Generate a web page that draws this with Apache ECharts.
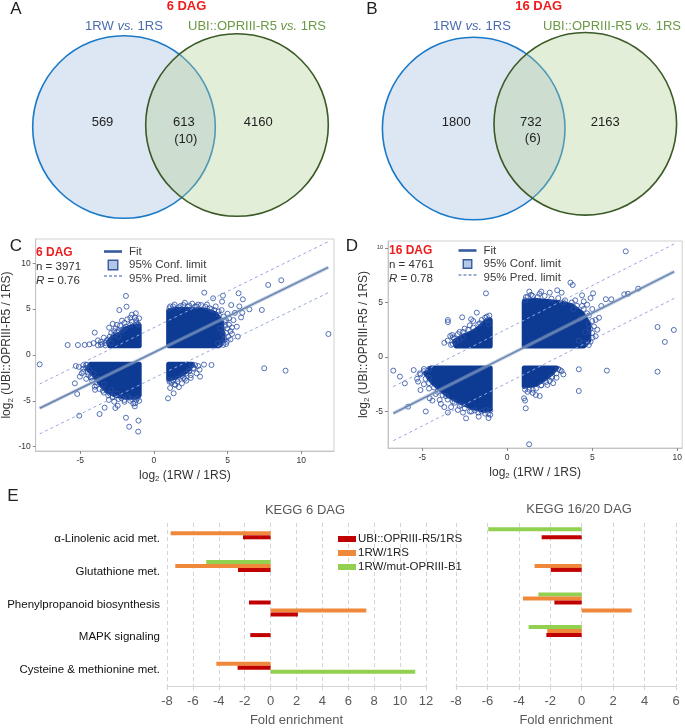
<!DOCTYPE html>
<html><head><meta charset="utf-8">
<script src="https://cdn.jsdelivr.net/npm/echarts@6/dist/echarts.min.js"></script>
<style>html,body{margin:0;padding:0;background:#fff}#c{width:685px;height:728px}</style>
</head><body><div id="c"></div>
<script>
// ---------------- DATA ----------------
const vennTitles = ['6 DAG', '16 DAG'];
const vennSetLabels = ['1RW {i|vs.} 1RS', 'UBI::OPRIII-R5 {i|vs.} 1RS'];
const vennCountsA = [569, 613, 4160];
const vennSharedA = [10];
const vennCountsB = [1800, 732, 2163];
const vennSharedB = [6];

const statsC = ['6 DAG', 3971, 0.76];
const statsD = ['16 DAG', 4761, 0.78];

const ticksCx = [-5, 0, 5, 10];
const ticksCy = [-10, -5, 0, 5, 10];
const ticksDx = [-5, 0, 5, 10];
const ticksDy = [-5, 0, 5, 10];

const fitC = [[-7.76, -5.81], [11.84, 9.56]];
const predUpC = [[-7.76, -3.16], [11.84, 12.36]];
const predLoC = [[-7.76, -8.6], [11.84, 6.8]];
const fitD = [[-6.7, -5.17], [9.82, 7.83]];
const predUpD = [[-6.7, -2.72], [9.82, 10.37]];
const predLoD = [[-6.7, -7.68], [9.82, 5.38]];

// saturated (fully overlapping) point clouds, outlines
const densityC = [
  [[1,1],[4.4,1],[4.7,1.4],[4.6,3.5],[4.2,4.5],[3.5,4.9],[1.5,5.0],[1,4.8]],
  [[-1,1],[-3.0,1],[-3.1,1.4],[-2.8,1.9],[-2.3,2.3],[-2.0,2.8],[-1.5,3.1],[-1,3.2]],
  [[-1,-1],[-4.3,-1],[-4.5,-1.5],[-4.0,-2.3],[-3.6,-3.2],[-3.2,-3.9],[-2.6,-4.4],[-1.8,-4.6],[-1.2,-4.6],[-1,-4.4]],
  [[1,-1],[2.6,-1],[2.4,-1.5],[2.0,-2.0],[1.5,-2.4],[1,-2.6]]
];
const densityD = [
  [[1,1],[4.5,1],[4.8,1.5],[4.8,3.0],[4.4,4.0],[3.8,4.7],[3.0,5.0],[1.6,5.2],[1,5.1]],
  [[-1,1],[-3.0,1],[-3.1,1.4],[-2.6,1.9],[-2.1,2.2],[-1.7,2.6],[-1.3,3.2],[-1,3.4]],
  [[-1,-1],[-4.5,-1],[-4.8,-1.5],[-4.4,-2.3],[-3.9,-3.0],[-3.4,-3.6],[-2.8,-4.1],[-2.1,-4.6],[-1.4,-4.9],[-1,-4.8]],
  [[1,-1],[2.9,-1],[2.6,-1.5],[2.2,-2.0],[1.7,-2.5],[1,-2.7]]
];

const scatterC = [
  [-1.9,6.44],[-1.86,5.27],[-2.35,4.9],[-1.23,4.55],[-2.17,3.75],[-1.0,4.0],[-1.6,4.07],[-3.04,2.98],[-4.02,2.44],[-3.6,1.42],
  [-4.38,1.16],[-4.7,1.1],[-5.86,1.09],[-5.16,1.09],[-3.8,1.6],[-3.4,1.9],[-2.9,2.4],[-2.6,2.9],[-2.3,3.2],[-1.5,3.6],
  [-1.1,3.4],[-1.3,4.1],[-2.0,3.5],[-3.3,1.3],[-3.1,1.7],[-2.7,2.6],[-2.5,3.3],[-1.8,3.9],[-1.2,3.8],[-3.6,1.1],
  [-4.1,1.3],[-2.8,3.4],[-2.0,2.9],[-2.4,2.7],[-1.5,4.4],
  [-3.3,1.05],[-3.5,1.2],[-3.2,1.6],[-3.0,2.0],[-2.7,2.2],[-2.5,2.5],[-2.2,2.7],[-1.9,3.1],[-1.6,3.3],[-1.2,3.5],
  [-1.05,3.3],[-2.9,1.3],[-3.8,1.05],[-2.4,2.0],
  [-7.76,-1.02],[-5.3,-1.2],[-5.1,-1.3],[-4.8,-1.82],[-5.03,-2.36],[-5.37,-3.09],[-5.21,-4.25],[-5.07,-6.62],[-3.69,-6.44],[-3.35,-5.75],
  [-2.62,-5.78],[-2.46,-5.53],[-1.9,-6.84],[-1.68,-7.82],[-1.05,-7.16],[-1.07,-8.36],[-3.06,-4.9],[-2.79,-4.55],[-2.2,-4.7],[-1.8,-4.6],
  [-1.27,-5.27],[-4.25,-2.47],[-4.45,-2.2],[-4.02,-3.45],[-3.47,-3.89],[-3.0,-4.2],[-4.58,-1.05],[-4.8,-1.1],[-4.4,-1.6],[-4.1,-2.0],
  [-3.8,-2.6],[-3.4,-3.2],[-2.5,-4.2],[-1.5,-4.8],[-1.1,-4.7],[-2.0,-5.1],[-4.6,-1.4],[-3.9,-3.0],[-1.3,-5.6],[-2.9,-3.8],
  [-4.6,-1.1],[-4.8,-1.5],[-4.5,-1.9],[-4.3,-2.4],[-4.2,-2.8],[-3.9,-3.3],[-3.7,-3.7],[-3.4,-4.1],[-3.1,-4.4],[-2.8,-4.6],
  [-2.4,-4.8],[-2.0,-4.9],[-1.6,-5.0],[-1.2,-4.9],[-1.0,-5.0],[-4.9,-2.0],[-4.6,-2.6],[-4.0,-3.8],[-2.7,-5.1],[-1.4,-5.3],
  [0.96,-4.73],[1.34,-4.18],[1.45,-3.27],[1.9,-3.09],[2.2,-2.8],[3.13,-2.36],[2.9,-2.0],[3.91,-1.09],[3.0,-1.2],[2.7,-1.5],
  [2.5,-2.2],[1.1,-3.6],[1.6,-2.9],[2.0,-2.5],[1.2,-3.0],[3.4,-1.05],[2.6,-1.1],[1.05,-2.9],[7.49,-1.45],[8.94,-1.71],
  [1.7,-3.5],[2.4,-1.8],
  [2.8,-1.1],[2.7,-1.4],[2.4,-1.7],[2.2,-2.0],[1.9,-2.3],[1.6,-2.6],[1.3,-2.8],[1.05,-2.7],[3.1,-1.6],[2.1,-2.6],
  [1.4,-3.2],[2.5,-2.5],
  [11.85,2.29],[7.76,7.64],[8.65,8.15],[7.33,4.91],[6.48,4.98],[6.04,6.07],[5.75,6.73],[5.25,5.45],[4.63,5.82],[4.02,6.18],
  [4.69,6.47],[3.42,6.8],[5.92,4.1],[5.63,3.09],[5.2,2.6],[5.7,2.0],[5.3,2.29],[4.58,1.38],[4.36,1.3],[4.8,1.6],
  [5.0,4.5],[5.5,4.6],[4.8,3.6],[5.1,3.3],[4.6,4.9],[4.2,5.3],[3.6,5.5],[3.0,5.5],[2.4,5.4],[1.8,5.35],
  [1.3,5.3],[1.05,5.1],[2.1,5.7],[4.4,4.4],[4.7,2.3],[4.5,2.9],[5.4,3.8],[3.9,5.0],[4.9,1.2],[6.0,4.6],
  [5.8,5.3],[2.8,5.3],
  [1.1,5.3],[1.4,5.5],[1.7,5.2],[2.0,5.45],[2.3,5.25],[2.6,5.6],[2.9,5.3],[3.2,5.45],[3.5,5.25],[3.8,5.1],
  [4.1,4.9],[4.4,4.75],[4.75,4.2],[4.9,3.8],[4.85,3.2],[5.0,2.9],[4.9,2.4],[5.05,2.0],[4.8,1.8],[4.95,1.45],
  [4.7,1.1],[5.2,1.7],[5.3,3.0],[5.1,4.0]
];

const scatterD = [
  [1.2,5.5],[1.05,5.2],[1.5,5.6],[1.9,5.8],[2.5,5.9],[3.2,5.9],[2.94,6.12],[3.72,6.82],[3.85,6.6],[4.0,5.2],
  [4.5,5.1],[4.4,5.66],[4.9,5.4],[5.05,5.84],[5.53,4.68],[5.8,5.3],[6.12,5.29],[6.88,5.75],[7.1,5.8],[7.7,6.27],
  [6.97,9.69],[4.4,4.68],[4.7,4.0],[4.79,3.0],[5.02,1.77],[4.5,1.31],[4.2,1.5],[4.6,2.3],[4.9,2.6],[5.2,3.4],
  [4.3,3.5],[8.84,2.75],[9.27,1.38],[9.8,2.48],[5.0,4.4],[4.8,1.1],[3.9,4.4],[3.3,5.0],
  [1.1,5.5],[1.4,5.7],[1.8,5.5],[2.2,5.6],[2.6,5.35],[3.0,5.4],[3.4,5.2],[3.8,5.0],[4.1,4.7],[4.5,4.4],
  [4.8,3.8],[5.0,3.3],[5.1,2.8],[5.0,2.2],[5.2,1.9],[4.9,1.4],[5.3,2.5],[5.4,3.6],[4.7,4.8],[2.0,6.0],
  [1.3,6.0],
  [-3.49,3.39],[-3.49,3.2],[-3.23,2.02],[-3.1,1.7],[-2.65,3.64],[-2.12,3.46],[-1.79,4.07],[-1.15,3.39],[-1.25,5.84],[-3.35,1.93],
  [-3.0,1.4],[-2.8,2.3],[-2.5,2.6],[-2.2,2.9],[-1.6,3.1],[-1.3,3.6],[-2.0,3.3],[-3.2,1.2],[-2.6,1.8],[-1.1,3.0],
  [-3.3,1.1],[-3.5,1.5],[-3.2,1.8],[-2.9,2.1],[-2.6,2.3],[-2.3,2.5],[-2.0,2.7],[-1.7,3.0],[-1.5,3.4],[-1.2,3.7],
  [-1.05,3.8],[-3.7,1.3],[-2.8,1.6],
  [-6.7,-1.25],[-6.31,-1.8],[-6.02,-2.42],[-5.83,-4.56],[-5.14,-1.5],[-5.24,-2.26],[-5.1,-3.03],[-4.79,-5.0],[-4.56,-3.79],[-4.4,-4.0],
  [-3.97,-3.94],[-3.9,-4.3],[-3.49,-5.1],[-2.9,-4.86],[-2.42,-5.63],[-1.68,-5.47],[-1.25,-4.86],[-1.0,-4.9],[-1.1,-5.2],[-4.9,-1.3],
  [-4.6,-1.9],[-4.9,-2.5],[-4.6,-2.9],[-4.2,-3.4],[-3.6,-3.6],[-3.2,-4.1],[-2.7,-4.4],[-2.2,-5.0],[-1.9,-4.9],[-1.5,-5.0],
  [-5.5,-1.2],[-4.6,-1.1],[-3.7,-4.6],[-2.6,-5.1],
  [-4.9,-1.1],[-5.1,-1.6],[-4.8,-2.0],[-4.6,-2.4],[-4.3,-2.8],[-4.1,-3.2],[-3.8,-3.5],[-3.5,-3.9],[-3.1,-4.2],[-2.8,-4.5],
  [-2.5,-4.7],[-2.1,-5.0],[-1.7,-5.1],[-1.3,-5.2],[-1.0,-5.3],[-5.3,-2.0],[-3.3,-4.6],[-1.1,-5.6],
  [0.99,-3.79],[1.09,-4.71],[1.29,-8.01],[1.68,-3.49],[1.91,-3.58],[2.36,-2.57],[2.65,-1.8],[2.9,-1.9],[4.21,-1.13],[4.21,-3.12],
  [5.86,-1.25],[8.84,-1.35],[3.0,-1.1],[2.5,-2.2],[2.0,-2.6],[1.5,-3.0],[1.2,-3.2],[3.2,-1.3],[1.05,-4.0],
  [3.1,-1.2],[2.9,-1.5],[2.6,-1.9],[2.3,-2.3],[2.0,-2.6],[1.7,-2.9],[1.3,-3.0],[1.05,-3.0],[3.3,-1.6],[2.7,-2.4],
  [1.5,-3.3]
];

const keggCategories = ['\u03b1-Linolenic acid met.', 'Glutathione met.', 'Phenylpropanoid biosynthesis', 'MAPK signaling', 'Cysteine & methionine met.'];
const seriesNames = ['UBI::OPRIII-R5/1RS', '1RW/1RS', '1RW/mut-OPRIII-B1'];
// 6 DAG (down = negative-enrichment row, up = positive row)
const green6Down  = [null, -4.97, null, null, null];
const orange6Down = [-7.72, -7.36, null, null, -4.19];
const red6Down    = [-2.13, -2.52, -1.67, -1.57, -2.55];
const green6Up    = [null, null, null, null, 11.17];
const orange6Up   = [null, null, 7.39, null, null];
const red6Up      = [null, null, 2.11, null, null];
// 16/20 DAG
const green16Down  = [-5.95, null, -2.76, -3.38, null];
const orange16Down = [null, -3.0, -3.74, -2.19, null];
const red16Down    = [-2.55, -1.97, -1.74, -2.25, null];
const green16Up    = [null, null, null, null, null];
const orange16Up   = [null, null, 3.18, null, null];
const red16Up      = [null, null, null, null, null];

// ---------------- STYLE / LAYOUT ----------------
const FONT = '"Liberation Sans", Arial, Helvetica, sans-serif';
const RED = '#c00000', ORANGE = '#f0883c', GREEN = '#92d050';
const PT = '#2b4fa5', CORE = '#0d3b94';

function T(x, y, text, o) {
  o = o || {};
  const st = {
    text: text, fill: o.fill || '#222', fontSize: o.size || 13, fontFamily: FONT,
    fontWeight: o.weight || 'normal', fontStyle: o.style || 'normal',
    align: o.align || 'center', textAlign: o.align || 'center',
    verticalAlign: 'middle', textVerticalAlign: 'middle'
  };
  if (o.rich) st.rich = o.rich;
  return { type: 'text', x: x, y: y, z: 10, style: st, silent: true };
}
function richItal(color, size) {
  return { i: { fontStyle: 'italic', fill: color, fontSize: size, fontFamily: FONT } };
}

function venn(L, counts, shared, title) {
  const els = [];
  els.push({ type: 'circle', shape: { cx: L.c1[0], cy: L.c1[1], r: L.r }, style: { fill: '#dde6f3', stroke: '#1a7ac7', lineWidth: 1.6 }, silent: true });
  els.push({ type: 'circle', shape: { cx: L.c2[0], cy: L.c2[1], r: L.r }, style: { fill: 'rgba(178,209,146,0.36)', stroke: '#3b5a27', lineWidth: 1.6 }, silent: true });
  els.push(T(L.title[0], L.title[1], title, { fill: '#ee1c1c', weight: 'bold', size: 13 }));
  els.push(T(L.lab1[0], L.lab1[1], vennSetLabels[0], { fill: '#4a6cb0', size: 13, rich: richItal('#4a6cb0', 13) }));
  els.push(T(L.lab2[0], L.lab2[1], vennSetLabels[1], { fill: '#6a9a45', size: 13, rich: richItal('#6a9a45', 13) }));
  els.push(T(L.n1[0], L.n1[1], String(counts[0])));
  els.push(T(L.n2[0], L.n2[1], String(counts[1])));
  els.push(T(L.n2[0] + 2, L.n2[1] + 16.5, '(' + shared[0] + ')'));
  els.push(T(L.n3[0], L.n3[1], String(counts[2])));
  return els;
}
const layoutA = { c1: [124, 127], c2: [237, 125], r: 91.3, title: [186.5, 6], lab1: [124, 26], lab2: [257, 26], n1: [102.5, 122.5], n2: [183.8, 122.5], n3: [258.3, 122.5] };
const layoutB = { c1: [473.7, 128.5], c2: [585.3, 123.8], r: 91.3, title: [538.7, 6], lab1: [472, 26.5], lab2: [612, 26.5], n1: [456.3, 122], n2: [530.8, 122], n3: [605.3, 122] };

function scatterLegend(x0, y0, sq) {
  const c = '#3a5a9e';
  return [
    { type: 'line', shape: { x1: x0, y1: y0, x2: x0 + 18, y2: y0 }, style: { stroke: c, lineWidth: 2.6 }, silent: true, z: 10 },
    { type: 'rect', shape: { x: x0 + 9 - sq / 2, y: y0 + 13.5 - sq / 2, width: sq, height: sq }, style: { fill: '#b5c7e6', stroke: c, lineWidth: 1.4 }, silent: true, z: 10 },
    { type: 'line', shape: { x1: x0, y1: y0 + 24.5, x2: x0 + 18, y2: y0 + 24.5 }, style: { stroke: c, lineWidth: 1, lineDash: [3, 2] }, silent: true, z: 10 },
    T(x0 + 25, y0, 'Fit', { align: 'left', size: 11.5, fill: '#3c3c3c' }),
    T(x0 + 25, y0 + 13.5, '95% Conf. limit', { align: 'left', size: 11.5, fill: '#3c3c3c' }),
    T(x0 + 25, y0 + 27, '95% Pred. limit', { align: 'left', size: 11.5, fill: '#3c3c3c' })
  ];
}
function statsText(x0, y0, s) {
  return [
    T(x0, y0, s[0], { align: 'left', size: 12, weight: 'bold', fill: '#ee1c1c' }),
    T(x0, y0 + 14, 'n = ' + s[1], { align: 'left', size: 11.5, fill: '#333' }),
    T(x0, y0 + 28, '{i|R} = ' + s[2], { align: 'left', size: 11.5, fill: '#333', rich: richItal('#333', 11.5) })
  ];
}

const graphic = [].concat(
  venn(layoutA, vennCountsA, vennSharedA, vennTitles[0]),
  venn(layoutB, vennCountsB, vennSharedB, vennTitles[1]),
  [T(16, 9, 'A', { size: 17 }), T(372, 9, 'B', { size: 17 }), T(16, 246, 'C', { size: 17 }), T(352, 246, 'D', { size: 17 }), T(13, 496, 'E', { size: 17 })],
  statsText(36, 252.5, statsC), statsText(389, 250.5, statsD),
  scatterLegend(104, 251.5, 9.5), scatterLegend(458.5, 250.5, 8.5),
  [T(305, 510, 'KEGG 6 DAG', { size: 13, fill: '#595959' }), T(579, 509.5, 'KEGG 16/20 DAG', { size: 13, fill: '#595959' })]
);

// ---------------- AXES ----------------
const nameRich = {
  t: { fontSize: 12, color: '#333', fontFamily: FONT },
  s: { fontSize: 8, color: '#333', fontFamily: FONT, padding: [7, 0, 0, 0] }
};
function sAxisX(gi, min, max, ticks) {
  return {
    type: 'value', gridIndex: gi, min: min, max: max, splitLine: { show: false },
    axisLine: { show: true, onZero: false, lineStyle: { color: '#c4c4c4' } },
    axisTick: { show: true, customValues: ticks, length: 3, lineStyle: { color: '#8a8a8a' } },
    axisLabel: { customValues: ticks, fontSize: 8.5, color: '#333', margin: 5, fontFamily: FONT },
    name: '{t|log}{s|2}{t| (1RW / 1RS)}', nameLocation: 'middle', nameGap: 17,
    nameTextStyle: { rich: nameRich }
  };
}
function sAxisY(gi, min, max, ticks, fmt) {
  return {
    type: 'value', gridIndex: gi, min: min, max: max, splitLine: { show: false },
    axisLine: { show: true, onZero: false, lineStyle: { color: '#c4c4c4' } },
    axisTick: { show: true, customValues: ticks, length: 3, lineStyle: { color: '#8a8a8a' } },
    axisLabel: { customValues: ticks, fontSize: 8.5, color: '#333', margin: 5, fontFamily: FONT, formatter: fmt, rich: { s: { fontSize: 5.5, color: '#333' } } },
    name: '{t|log}{s|2}{t| (UBI::OPRIII-R5 / 1RS)}', nameLocation: 'middle', nameGap: 17,
    nameTextStyle: { rich: nameRich }
  };
}
function bAxisX(gi, min, max) {
  return {
    type: 'value', gridIndex: gi, min: min, max: max, interval: 2,
    splitLine: { show: true, lineStyle: { color: '#d4d4d4', type: [4, 3] } },
    axisLine: { show: true, onZero: false, lineStyle: { color: '#d4d4d4' } },
    axisTick: { show: true, length: 4, lineStyle: { color: '#d4d4d4' } },
    axisLabel: { fontSize: 13, color: '#595959', margin: 9, fontFamily: FONT },
    name: 'Fold enrichment', nameLocation: 'middle', nameGap: 28,
    nameTextStyle: { fontSize: 13, color: '#595959', fontFamily: FONT }
  };
}
function bAxisY(gi, showLabels) {
  return {
    type: 'category', gridIndex: gi, inverse: true, data: keggCategories,
    axisLine: { show: false }, axisTick: { show: false }, splitLine: { show: false },
    axisLabel: { show: showLabels, fontSize: 11.5, color: '#111', margin: 7, fontFamily: FONT }
  };
}

function polyRender(polys) {
  return function (params, api) {
    const pts = polys[params.dataIndex].map(function (p) { return api.coord(p); });
    return { type: 'polygon', shape: { points: pts }, style: { fill: CORE, stroke: CORE, lineWidth: 5, lineJoin: 'round' } };
  };
}
function scatterSeries(gi, pts, polys, fit, up, lo) {
  return [
    { type: 'custom', xAxisIndex: gi, yAxisIndex: gi, clip: true, silent: true, z: 2,
      data: polys.map(function (p) { return p[0]; }), renderItem: polyRender(polys) },
    { type: 'scatter', xAxisIndex: gi, yAxisIndex: gi, data: pts, symbol: 'circle', symbolSize: 5, silent: true, z: 3,
      itemStyle: { color: 'rgba(0,0,0,0)', borderColor: PT, borderWidth: 1 } },
    { type: 'line', xAxisIndex: gi, yAxisIndex: gi, data: up, symbol: 'none', silent: true, z: 4, lineStyle: { color: '#97a6dc', width: 1, type: [3, 3] } },
    { type: 'line', xAxisIndex: gi, yAxisIndex: gi, data: lo, symbol: 'none', silent: true, z: 4, lineStyle: { color: '#97a6dc', width: 1, type: [3, 3] } },
    { type: 'line', xAxisIndex: gi, yAxisIndex: gi, data: fit, symbol: 'none', silent: true, z: 4, lineStyle: { color: 'rgba(140,165,210,0.5)', width: 3.5 } },
    { type: 'line', xAxisIndex: gi, yAxisIndex: gi, data: fit, symbol: 'none', silent: true, z: 5, lineStyle: { color: '#6a84ab', width: 1.5 } }
  ];
}
function barSeries(gi, cols) {
  const colors = [GREEN, ORANGE, RED, GREEN, ORANGE, RED];
  const names = [seriesNames[2], seriesNames[1], seriesNames[0], seriesNames[2], seriesNames[1], seriesNames[0]];
  return cols.map(function (d, i) {
    return { type: 'bar', name: names[i], xAxisIndex: gi, yAxisIndex: gi, data: d, barWidth: 4, barGap: '0%',
      silent: true, itemStyle: { color: colors[i] } };
  });
}

const option = {
  animation: false,
  textStyle: { fontFamily: FONT },
  grid: [
    { left: 32, top: 239, width: 302, height: 212, show: true, borderColor: '#cfcfcf', borderWidth: 1 },
    { left: 388, top: 241, width: 296, height: 207, show: true, borderColor: '#cfcfcf', borderWidth: 1 },
    { left: 167, top: 523, width: 259, height: 164 },
    { left: 456, top: 523, width: 220, height: 164 }
  ],
  xAxis: [sAxisX(0, -8.03, 12.23, ticksCx), sAxisX(1, -7.01, 10.29, ticksDx), bAxisX(2, -8, 12), bAxisX(3, -8, 6)],
  yAxis: [sAxisY(0, -10.47, 12.65, ticksCy), sAxisY(1, -8.35, 10.64, ticksDy, function (v) { return v === 10 ? '{s|10}' : String(v); }), bAxisY(2, true), bAxisY(3, false)],
  legend: {
    data: [seriesNames[0], seriesNames[1], seriesNames[2]], orient: 'vertical', left: 333, top: 527.5,
    itemWidth: 18, itemHeight: 6, itemGap: 1, icon: 'rect', selectedMode: false,
    textStyle: { fontSize: 11.5, color: '#222', lineHeight: 13, padding: [0, 0, 0, -3] }
  },
  graphic: graphic,
  series: [].concat(
    scatterSeries(0, scatterC, densityC, fitC, predUpC, predLoC),
    scatterSeries(1, scatterD, densityD, fitD, predUpD, predLoD),
    barSeries(2, [green6Down, orange6Down, red6Down, green6Up, orange6Up, red6Up]),
    barSeries(3, [green16Down, orange16Down, red16Down, green16Up, orange16Up, red16Up])
  )
};
const chart = echarts.init(document.getElementById('c'));
chart.setOption(option);
</script></body></html>
